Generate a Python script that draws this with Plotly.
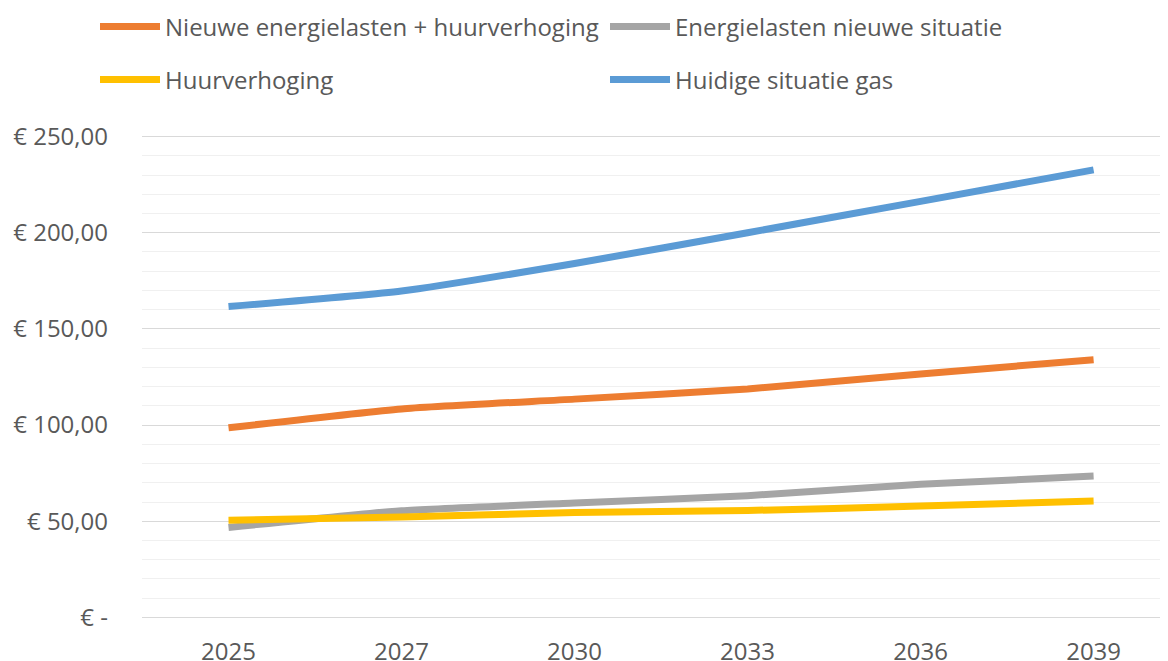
import plotly.graph_objects as go

years = ["2025", "2027", "2030", "2033", "2036", "2039"]
nieuwe_plus_huur = [98.6, 108.4, 113.5, 118.8, 126.6, 134.0]
energie_nieuw = [46.8, 55.5, 59.5, 63.3, 69.2, 73.5]
huurverhoging = [50.5, 52.2, 54.5, 55.6, 57.9, 60.5]
huidige_gas = [161.6, 169.7, 184.0, 200.0, 216.3, 232.7]

names = ["Nieuwe energielasten + huurverhoging", "Energielasten nieuwe situatie",
         "Huurverhoging", "Huidige situatie gas"]
series = [nieuwe_plus_huur, energie_nieuw, huurverhoging, huidige_gas]
colors = ["#ED7D31", "#A5A5A5", "#FFC000", "#5B9BD5"]
legends = ["legend", "legend", "legend2", "legend2"]

y_tickvals = [0, 50, 100, 150, 200, 250]
y_ticktext = ["€ -", "€ 50,00", "€ 100,00", "€ 150,00", "€ 200,00", "€ 250,00"]

FONT = "Open Sans"
TXT = "#595959"
FS = 24

# page body has an 8px margin, so the figure is sized/offset to compensate
W, H = 1160, 653

fig = go.Figure()
for name, vals, col, lg in zip(names, series, colors, legends):
    fig.add_trace(go.Scatter(
        x=years, y=vals, name=name, mode="lines",
        line=dict(color=col, width=7, shape="spline", smoothing=0.5),
        legend=lg,
    ))

legend_common = dict(
    orientation="h", xref="container", yref="container",
    xanchor="left", yanchor="middle",
    entrywidth=435, entrywidthmode="pixels",
    font=dict(family=FONT, size=FS, color=TXT),
    bgcolor="rgba(0,0,0,0)", itemwidth=60,
)

fig.update_layout(
    width=W, height=H,
    margin=dict(l=134, r=0, t=127, b=42, autoexpand=False),
    paper_bgcolor="white", plot_bgcolor="white",
    font=dict(family=FONT, size=FS, color=TXT),
    showlegend=True,
    legend=dict(x=87 / W, y=1 - 19 / H, **legend_common),
    legend2=dict(x=87 / W, y=1 - 72 / H, **legend_common),
    xaxis=dict(
        type="category", range=[-0.5, 5.43], showgrid=False, zeroline=False,
        showline=False, ticks="", ticklabelstandoff=16, automargin=False,
        tickfont=dict(family=FONT, size=FS, color=TXT),
    ),
    yaxis=dict(
        range=[-0.8, 250.8], tickvals=y_tickvals, ticktext=y_ticktext,
        showgrid=True, gridcolor="#D9D9D9", gridwidth=1.3, zeroline=False,
        showline=False, ticks="", ticklabelstandoff=33, automargin=False,
        tickfont=dict(family=FONT, size=FS, color=TXT),
        minor=dict(dtick=10, tick0=0, showgrid=True, gridcolor="#F0F0F0", gridwidth=1.3),
    ),
)

fig.write_html("out.html")
